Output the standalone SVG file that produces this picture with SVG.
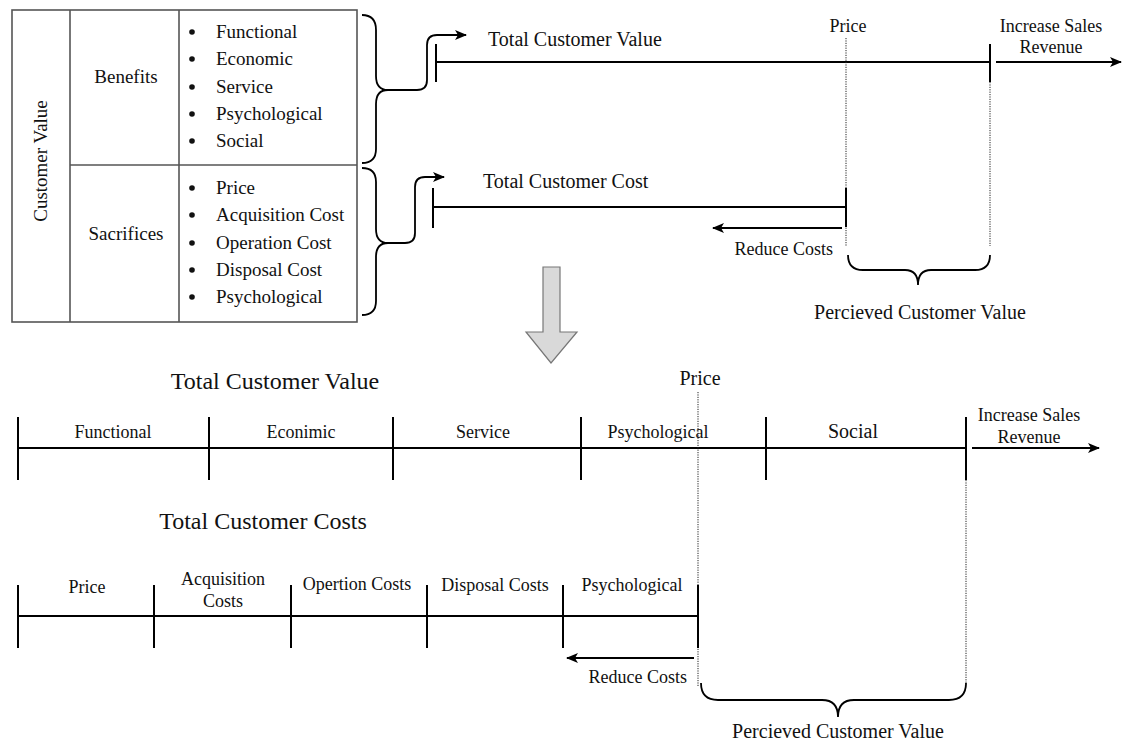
<svg xmlns="http://www.w3.org/2000/svg" width="1123" height="742" viewBox="0 0 1123 742">
<style>
text{font-family:"Liberation Serif","Times New Roman",serif;fill:#111}
.tb{font-size:19px}
.t18{font-size:18px}
.t20{font-size:20px}
.t24{font-size:24px}
.mid{text-anchor:middle}
.end{text-anchor:end}
.ln{stroke:#000;stroke-width:1.8;fill:none}
.tk{stroke:#000;stroke-width:2;fill:none}
.dot{stroke:#222;stroke-width:1;stroke-dasharray:1.2,1.2;fill:none}
.tbl{stroke:#555;stroke-width:1.6;fill:#fff}
.tl{stroke:#555;stroke-width:1.6}
.bul{fill:#111}
</style>
<defs>
<marker id="ah" viewBox="0 0 12 10" refX="11" refY="5" markerWidth="12" markerHeight="10" markerUnits="userSpaceOnUse" orient="auto">
<path d="M0,0 L12,5 L0,10 L3,5 z" fill="#000"/>
</marker>
</defs>

<g id="table">
<rect class="tbl" x="12" y="10" width="345" height="312"/>
<line class="tl" x1="70" y1="10" x2="70" y2="322"/>
<line class="tl" x1="179" y1="10" x2="179" y2="322"/>
<line class="tl" x1="70" y1="165" x2="357" y2="165"/>
<text class="tb mid" transform="translate(47,161) rotate(-90)">Customer Value</text>
<text class="tb mid" x="126" y="83">Benefits</text>
<text class="tb mid" x="126" y="240">Sacrifices</text>
<g class="bul">
<circle cx="192" cy="32" r="2.8"/><circle cx="192" cy="59" r="2.8"/><circle cx="192" cy="87" r="2.8"/><circle cx="192" cy="114" r="2.8"/><circle cx="192" cy="141" r="2.8"/>
<circle cx="192" cy="188" r="2.8"/><circle cx="192" cy="215" r="2.8"/><circle cx="192" cy="243" r="2.8"/><circle cx="192" cy="270" r="2.8"/><circle cx="192" cy="297" r="2.8"/>
</g>
<text class="tb" x="216" y="38">Functional</text>
<text class="tb" x="216" y="65">Economic</text>
<text class="tb" x="216" y="93">Service</text>
<text class="tb" x="216" y="120">Psychological</text>
<text class="tb" x="216" y="147">Social</text>
<text class="tb" x="216" y="194">Price</text>
<text class="tb" x="216" y="221">Acquisition Cost</text>
<text class="tb" x="216" y="249">Operation Cost</text>
<text class="tb" x="216" y="276">Disposal Cost</text>
<text class="tb" x="216" y="303">Psychological</text>
</g>

<g id="braces">
<path class="ln" d="M362,15 Q376,15 376,30 L376,76 Q376,90 388,90 Q376,90 376,104 L376,149 Q376,163 362,163"/>
<path class="ln" d="M362,168 Q376,168 376,182 L376,229 Q376,243 388,243 Q376,243 376,257 L376,301 Q376,315 362,315"/>
<path class="ln" d="M848,255 Q848,270 863,270 L905,270 Q918,270 918,285 Q918,270 931,270 L975,270 Q990,270 990,255"/>
<path class="ln" d="M701,683 Q701,700 718,700 L822,700 Q838,700 838,717 Q838,700 854,700 L949,700 Q966,700 966,683"/>
</g>

<g id="connectors">
<path class="ln" d="M388,90 L417,90 Q427,90 427,80 L427,45 Q427,35 437,35 L466,35" marker-end="url(#ah)"/>
<path class="ln" d="M388,243 L405,243 Q415,243 415,233 L415,187 Q415,177 425,177 L444,177" marker-end="url(#ah)"/>
<line class="ln" x1="996" y1="62" x2="1121" y2="62" marker-end="url(#ah)"/>
<line class="ln" x1="842" y1="228" x2="713" y2="228" marker-end="url(#ah)"/>
<line class="ln" x1="972" y1="448" x2="1099" y2="448" marker-end="url(#ah)"/>
<line class="ln" x1="694" y1="658" x2="567" y2="658" marker-end="url(#ah)"/>
</g>

<g id="top-value-line">
<line class="tk" x1="436" y1="44" x2="436" y2="82"/>
<line class="ln" x1="436" y1="62" x2="990" y2="62"/>
<line class="tk" x1="990" y1="44" x2="990" y2="82"/>
<text class="t20" x="488" y="46">Total Customer Value</text>
<text class="t18 mid" x="848" y="32">Price</text>
<text class="t18 mid" x="1051" y="32">Increase Sales</text>
<text class="t18 mid" x="1051" y="53">Revenue</text>
<line class="dot" x1="846" y1="38" x2="846" y2="246"/>
<line class="dot" x1="990" y1="82" x2="990" y2="246"/>
</g>

<g id="top-cost-line">
<line class="tk" x1="433" y1="188" x2="433" y2="228"/>
<line class="ln" x1="433" y1="207" x2="846" y2="207"/>
<line class="tk" x1="846" y1="188" x2="846" y2="227"/>
<text class="t20" x="483" y="188">Total Customer Cost</text>
<text class="t18 end" x="833" y="255">Reduce Costs</text>
<text class="t20 mid" x="920" y="319">Percieved Customer Value</text>
</g>

<g id="down-arrow">
<path d="M543,267 L560,267 L560,332 L577,332 L551,363 L526,332 L543,332 Z" fill="#d9d9d9" stroke="#777" stroke-width="1.2"/>
</g>

<g id="bottom-value-line">
<text class="t24 mid" x="275" y="389">Total Customer Value</text>
<line class="ln" x1="18" y1="448" x2="966" y2="448"/>
<line class="tk" x1="18" y1="417" x2="18" y2="480"/>
<line class="tk" x1="209" y1="417" x2="209" y2="480"/>
<line class="tk" x1="393" y1="417" x2="393" y2="480"/>
<line class="tk" x1="581" y1="417" x2="581" y2="480"/>
<line class="tk" x1="766" y1="417" x2="766" y2="480"/>
<line class="tk" x1="966" y1="417" x2="966" y2="480"/>
<text class="t18 mid" x="113" y="438">Functional</text>
<text class="t18 mid" x="301" y="438">Econimic</text>
<text class="t18 mid" x="483" y="438">Service</text>
<text class="t18 mid" x="658" y="438">Psychological</text>
<text class="t20 mid" x="853" y="438">Social</text>
<text class="t20 mid" x="700" y="385">Price</text>
<text class="t18 mid" x="1029" y="421">Increase Sales</text>
<text class="t18 mid" x="1029" y="443">Revenue</text>
<line class="dot" x1="698" y1="392" x2="698" y2="686"/>
<line class="dot" x1="966" y1="480" x2="966" y2="686"/>
</g>

<g id="bottom-cost-line">
<text class="t24 mid" x="263" y="529">Total Customer Costs</text>
<line class="ln" x1="18" y1="616" x2="698" y2="616"/>
<line class="tk" x1="18" y1="585" x2="18" y2="648"/>
<line class="tk" x1="154" y1="585" x2="154" y2="648"/>
<line class="tk" x1="291" y1="585" x2="291" y2="648"/>
<line class="tk" x1="427" y1="585" x2="427" y2="648"/>
<line class="tk" x1="563" y1="585" x2="563" y2="648"/>
<line class="tk" x1="698" y1="585" x2="698" y2="648"/>
<text class="t18 mid" x="87" y="593">Price</text>
<text class="t18 mid" x="223" y="585">Acquisition</text>
<text class="t18 mid" x="223" y="607">Costs</text>
<text class="t18 mid" x="357" y="590">Opertion Costs</text>
<text class="t18 mid" x="495" y="591">Disposal Costs</text>
<text class="t18 mid" x="632" y="591">Psychological</text>
<text class="t18 end" x="687" y="683">Reduce Costs</text>
<text class="t20 mid" x="838" y="738">Percieved Customer Value</text>
</g>
</svg>
